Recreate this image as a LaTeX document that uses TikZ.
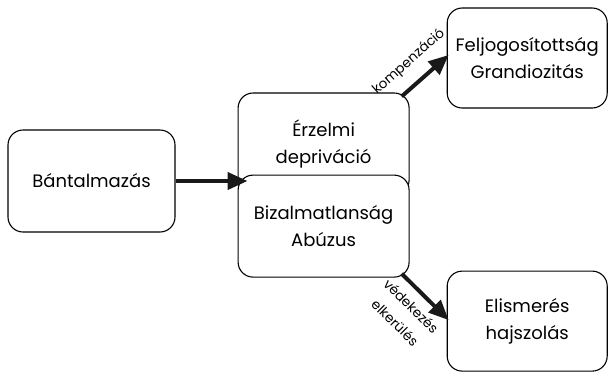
\documentclass[tikz,border=0pt]{standalone}
\usepackage{fontspec}
\setmainfont{Poppins}
\usetikzlibrary{positioning, arrows.meta, calc}
\begin{document}
\begin{tikzpicture}[
        x=1pt, y=1pt,
        node distance = 62pt and 62pt,
        box/.style   = {draw, line width=1.1pt, rounded corners=15pt, fill=white, align=center,
                        text=black, font=\fontsize{18}{26.5}\selectfont},
        lbox/.style  = {box, minimum width=167pt, minimum height=102pt},
        mbox/.style  = {box, minimum width=171pt, minimum height=102pt},
        rbox/.style  = {box, minimum width=160pt, minimum height=100pt},
        lab/.style   = {sloped, align=center, text=black, inner sep=2pt, font=\fontsize{13.5}{23}\selectfont},
        arrow/.style = {-{Triangle[length=20pt, width=17pt]}, line width=4pt, black!90},
    ]
        \useasboundingbox (0,0) rectangle (610,-373);

        %---- boxes ----
        \node[lbox] (bant) at (91.5,-181) {Bántalmazás};
        \node[mbox, right=62pt of bant, yshift=37pt] (erz) {Érzelmi\\depriváció};
        \node[mbox, below=-21pt of erz] (biz) {Bizalmatlanság\\Abúzus};
        \node[rbox, right=37pt of erz, yshift=86pt] (felj) {Feljogosítottság\\Grandiozitás};
        \node[rbox, right=37pt of biz, yshift=-95pt] (elis) {Elismerés\\hajszolás};
        \coordinate[right=72pt of bant.east] (hit);

        %---- arrows ----
        \draw[arrow] (bant.east) -- (hit);
        \draw[arrow] ($(erz.north east)+(-8,-4)$) -- node[lab, above=10pt, pos=0.45] {kompenzáció}
            ($(felj.west)+(2,3)$);
        \draw[arrow] ($(biz.south east)+(-8,4)$) -- node[lab, below=7pt, pos=0.45] {védekezés\\elkerülés}
            ($(elis.west)+(2,1)$);
    \end{tikzpicture}
\end{document}
